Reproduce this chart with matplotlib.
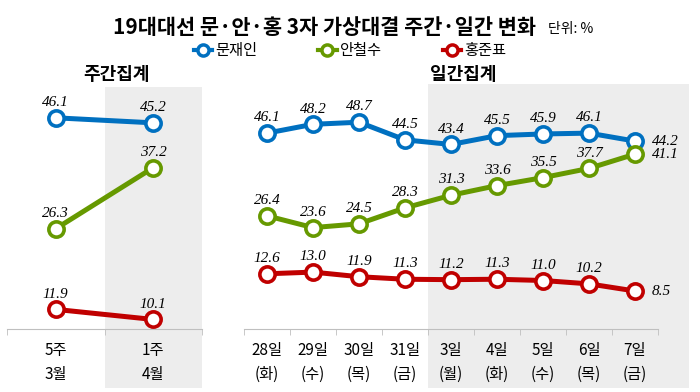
import matplotlib
matplotlib.use('Agg')
import matplotlib.pyplot as plt
from matplotlib.lines import Line2D

plt.rcParams['font.family'] = ['Noto Sans CJK KR', 'DejaVu Sans']

# 주간집계
week_labels = ['5주\n3월', '1주\n4월']
week_moon = [46.1, 45.2]
week_ahn = [26.3, 37.2]
week_hong = [11.9, 10.1]

# 일간집계
day_labels = ['28일\n(화)', '29일\n(수)', '30일\n(목)', '31일\n(금)', '3일\n(월)',
              '4일\n(화)', '5일\n(수)', '6일\n(목)', '7일\n(금)']
day_moon = [46.1, 48.2, 48.7, 44.5, 43.4, 45.5, 45.9, 46.1, 44.2]
day_ahn = [26.4, 23.6, 24.5, 28.3, 31.3, 33.6, 35.5, 37.7, 41.1]
day_hong = [12.6, 13.0, 11.9, 11.3, 11.2, 11.3, 11.0, 10.2, 8.5]

names = ['문재인', '안철수', '홍준표']
colors = ['#0070C0', '#669900', '#C00000']
shade = '#EDEDED'
axis_gray = '#BFBFBF'

fig = plt.figure(figsize=(7, 3.92), dpi=100)
ax1 = fig.add_axes([7/700, 1-329/392, 195/700, 242/392])
ax2 = fig.add_axes([244/700, 1-329/392, 445/700, 245/392])


def style(ax, labels, xmax, shade_from, ylim, below):
    n = len(labels)
    ax.set_xlim(-0.5, xmax)
    ax.set_ylim(*ylim)
    for s in ['top', 'right', 'left']:
        ax.spines[s].set_visible(False)
    ax.spines['bottom'].set_bounds(-0.5, n - 0.5)
    ax.spines['bottom'].set_color(axis_gray)
    ax.set_yticks([])
    ax.set_xticks(range(n), labels, fontsize=11, linespacing=1.6)
    ax.tick_params(axis='x', which='major', length=0, pad=9)
    ax.set_xticks([i - 0.5 for i in range(n + 1)], minor=True)
    ax.tick_params(axis='x', which='minor', length=4, color=axis_gray)
    ax.axvspan(shade_from, xmax, ymin=-below, ymax=1, color=shade, lw=0,
               zorder=0, clip_on=False)


style(ax1, week_labels, 1.5, 0.5, (8.4, 51.6), 59/242)
style(ax2, day_labels, -0.5 + 445/46, 3.5, (-0.55, 57.8), 59/245)


def draw(ax, series, last_right=False):
    for vals, c in zip(series, colors):
        x = range(len(vals))
        ax.plot(x, vals, color=c, lw=3.6, marker='o', ms=11, mfc='white',
                mew=2.6, zorder=3, clip_on=False)
        for i, v in enumerate(vals):
            if last_right and i == len(vals) - 1:
                ax.annotate(f'{v:.1f}', (i, v), xytext=(12, 0),
                            textcoords='offset points', ha='left', va='center',
                            fontsize=11, style='italic', family='Liberation Serif')
            else:
                ax.annotate(f'{v:.1f}', (i, v), xytext=(0, 11),
                            textcoords='offset points', ha='center', va='center',
                            fontsize=11, style='italic', family='Liberation Serif')


draw(ax1, [week_moon, week_ahn, week_hong])
draw(ax2, [day_moon, day_ahn, day_hong], last_right=True)

fig.text(536/700, 1-28/392, '19대대선 문·안·홍 3자 가상대결 주간·일간 변화',
         ha='right', va='center', fontsize=15, fontweight='bold')
fig.text(548/700, 1-29/392, '단위: %', ha='left', va='center', fontsize=10)

handles = [Line2D([], [], color=c, lw=3, marker='o', ms=8, mfc='white', mew=2.5)
           for c in colors]
fig.legend(handles, names, loc='center', bbox_to_anchor=(0.5, 1-51/392), ncol=3,
           frameon=False, fontsize=11, handlelength=1.2, handletextpad=0.2,
           columnspacing=4)

fig.text(117/700, 1-75/392, '주간집계', ha='center', va='center', fontsize=13,
         fontweight='bold')
fig.text(463/700, 1-74/392, '일간집계', ha='center', va='center', fontsize=13,
         fontweight='bold')

fig.savefig('out.png', dpi=100)
